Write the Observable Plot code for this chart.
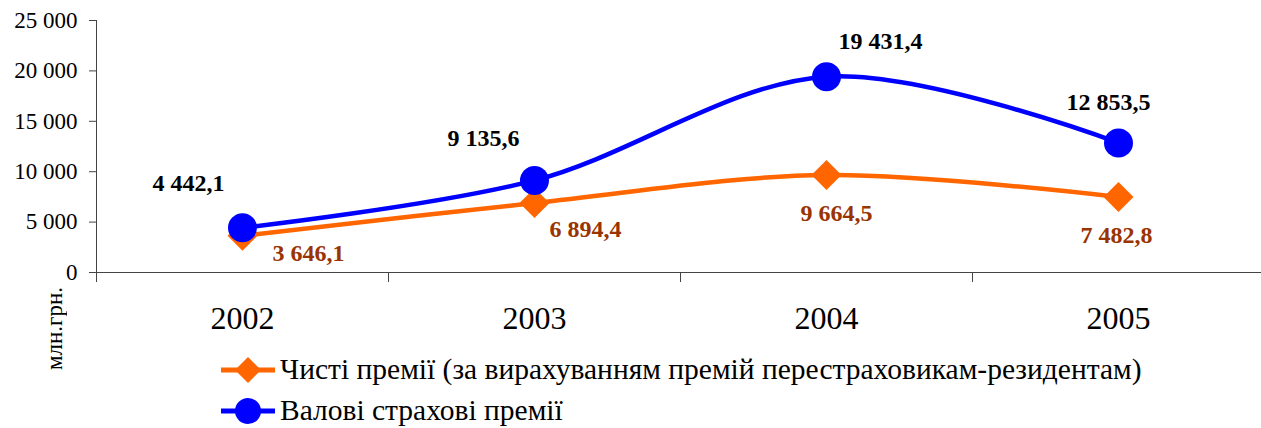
<!DOCTYPE html>
<html><head><meta charset="utf-8">
<script src="https://cdn.jsdelivr.net/npm/d3@7"></script>
<script src="https://cdn.jsdelivr.net/npm/@observablehq/plot@0.6"></script>
<style>
body{margin:0;background:#fff;}
#wrap{position:relative;width:1261px;height:428px;overflow:hidden;font-family:"Liberation Serif","Tinos","Times New Roman","DejaVu Serif",serif;color:#000;}
#ylab{position:absolute;left:43px;top:283px;height:90px;line-height:1;writing-mode:vertical-rl;transform:rotate(180deg);font-size:23px;text-align:center;white-space:nowrap;}
#legend{position:absolute;left:221px;top:349px;}
.row{display:flex;align-items:center;height:41px;font-size:29.5px;line-height:1;white-space:nowrap;}
.row svg{margin-right:5px;}
</style></head>
<body><div id="wrap"><div id="chart"></div><div id="ylab"></div><div id="legend"></div></div>
<script>
const years = [2002, 2003, 2004, 2005];
const gross = [4442.1, 9135.6, 19431.4, 12853.5];
const net = [3646.1, 6894.4, 9664.5, 7482.8];
const yTicks = [0, 5000, 10000, 15000, 20000, 25000];
const xBounds = [2001.5, 2002.5, 2003.5, 2004.5, 2005.5];
const seriesNames = ["Чисті премії (за вирахуванням премій перестраховикам-резидентам)", "Валові страхові премії"];
const yUnit = "млн.грн.";

// label layout offsets (pixels)
const grossDx = [-54, -51, 54, -10], grossDy = [-44, -42, -35, -41];
const netDx = [66, 51, 10, -2], netDy = [18, 26, 38, 38];

const FONT = "'Liberation Serif', Tinos, 'Times New Roman', 'DejaVu Serif', serif";
const loc = d3.formatLocale({decimal: ",", thousands: " ", grouping: [3], currency: ["", ""]});
const f1 = loc.format(",.1f"), f0 = loc.format(",.0f");
const grossData = years.map((x, i) => ({x, y: gross[i], i}));
const netData = years.map((x, i) => ({x, y: net[i], i}));
const BLUE = "#0000FF", ORANGE = "#FF6600", BROWN = "#993300", AX = "#444";

const chart = Plot.plot({
  width: 1261, height: 428, marginTop: 20, marginBottom: 156, marginLeft: 96, marginRight: 0,
  x: {type: "linear", domain: [2001.5, 2005.5], range: [96, 1264]},
  y: {domain: [0, 25000], range: [272, 20]},
  style: {fontFamily: FONT, background: "transparent", color: "#000"},
  marks: [
    Plot.axisY({ticks: yTicks, tickSize: 7, tickPadding: 12, tickFormat: f0, fontSize: 23, stroke: AX, label: null}),
    Plot.axisX({ticks: xBounds, tickSize: 10, tickFormat: () => "", stroke: AX, label: null}),
    Plot.axisX({ticks: years, tickSize: 0, tickPadding: 34, tickFormat: d => String(d), fontSize: 32, label: null}),
    Plot.ruleY([0], {stroke: AX}),
    Plot.ruleX([2001.5], {stroke: AX}),
    Plot.line(netData, {x: "x", y: "y", stroke: ORANGE, strokeWidth: 4.5, curve: "cardinal"}),
    Plot.dot(netData, {x: "x", y: "y", symbol: "diamond2", r: 13.5, fill: ORANGE, stroke: "none"}),
    Plot.line(grossData, {x: "x", y: "y", stroke: BLUE, strokeWidth: 4.5, curve: "cardinal"}),
    Plot.dot(grossData, {x: "x", y: "y", r: 14.5, fill: BLUE, stroke: "none"}),
    ...netData.map(d => Plot.text([d], {x: "x", y: "y", text: v => f1(v.y), dx: netDx[d.i], dy: netDy[d.i], fill: BROWN, fontWeight: "bold", fontSize: 24})),
    ...grossData.map(d => Plot.text([d], {x: "x", y: "y", text: v => f1(v.y), dx: grossDx[d.i], dy: grossDy[d.i], fill: "#000", fontWeight: "bold", fontSize: 24}))
  ]
});
chart.style.fontFamily = FONT;
document.getElementById("chart").appendChild(chart);
document.getElementById("ylab").textContent = yUnit;

const legend = document.getElementById("legend");
[[seriesNames[0], ORANGE, "diamond"], [seriesNames[1], BLUE, "circle"]].forEach(([name, color, shape]) => {
  const row = document.createElement("div");
  row.className = "row";
  const sw = shape === "diamond"
    ? `<polygon points="27,2 40,15 27,28 14,15" fill="${color}"/>`
    : `<circle cx="27" cy="15" r="13" fill="${color}"/>`;
  row.innerHTML = `<svg width="54" height="30"><line x1="0" x2="54" y1="15" y2="15" stroke="${color}" stroke-width="5"/>${sw}</svg><span>${name}</span>`;
  legend.appendChild(row);
});
</script></body></html>
